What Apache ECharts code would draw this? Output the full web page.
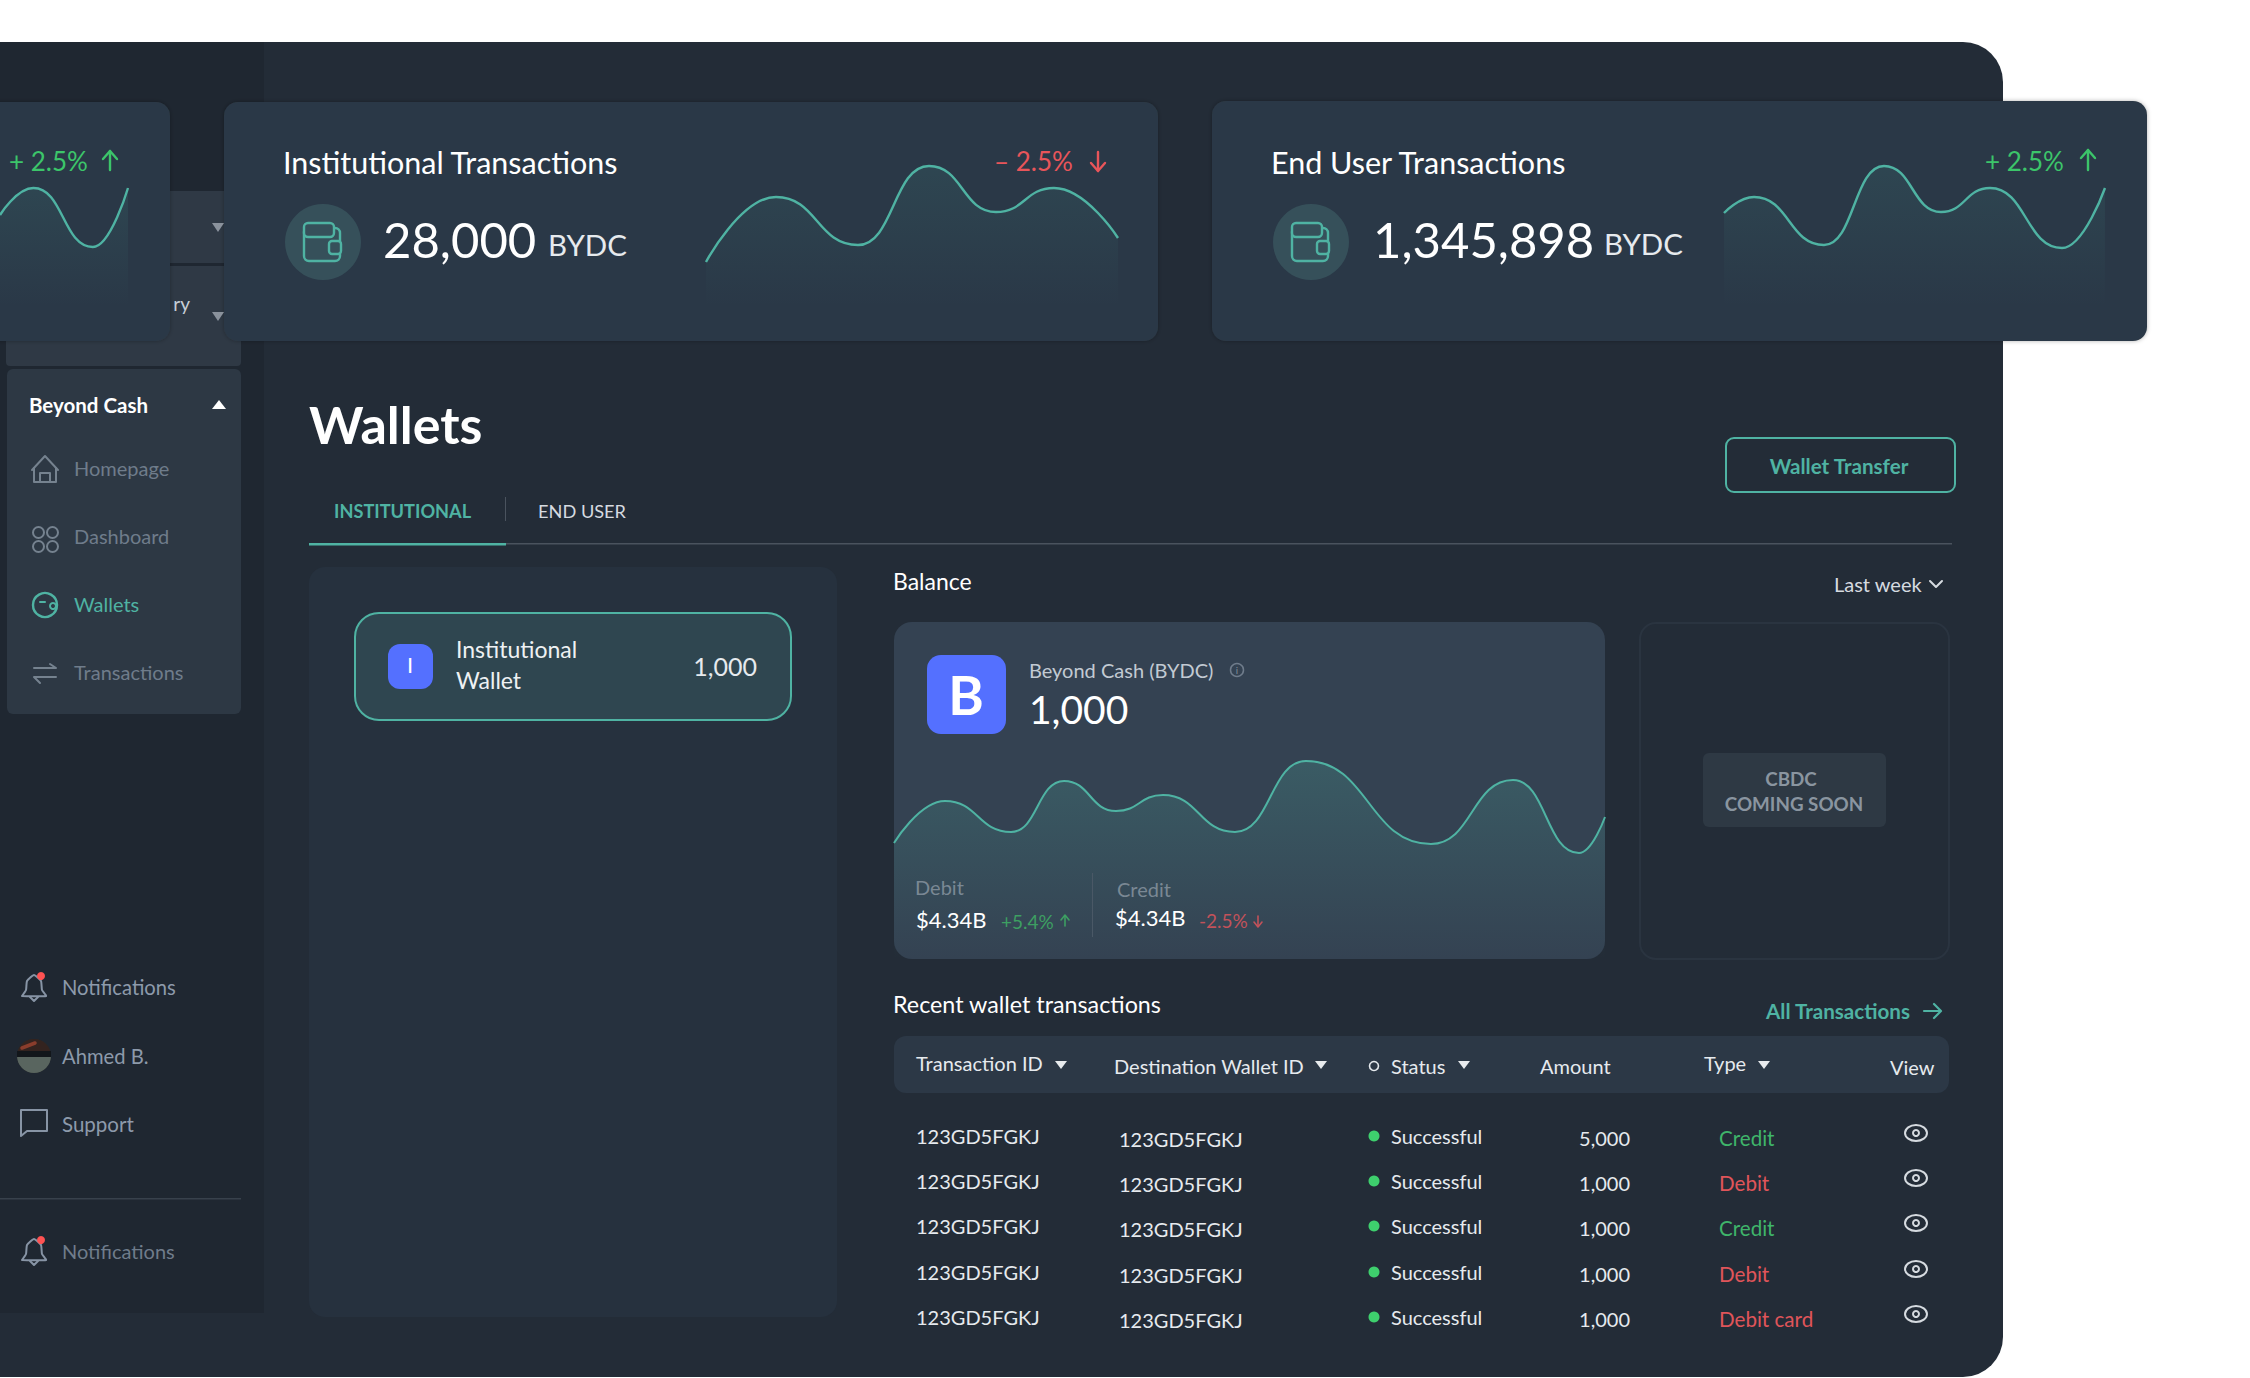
<!DOCTYPE html>
<html><head><meta charset="utf-8">
<style>html,body{margin:0;padding:0;background:#fff}#c{width:2250px;height:1378px}</style>
<script src="https://cdn.jsdelivr.net/npm/echarts@6/dist/echarts.min.js"></script>
</head><body><div id="c"></div>
<script>
// ---- data ----
const miniX=[0,40,111,153];
const miniY=[92,119,60,119];
const instX=[0,70,152,223,290,348,412];
const instY=[45,110,62,141,95,119,69];
const endX=[0,30,100,160,217,266,338,381];
const endY=[94,110,62,141,95,119,59,119];
const balX=[0,51,117,170,222,269,341,412,537,619,685,711];
const balY=[116,158,127,178,148,164,127,198,115,179,106,142];
const tableHeaders=['Transaction ID','Destination Wallet ID','Status','Amount','Type','View'];
const txnIds=['123GD5FGKJ','123GD5FGKJ','123GD5FGKJ','123GD5FGKJ','123GD5FGKJ'];
const destIds=['123GD5FGKJ','123GD5FGKJ','123GD5FGKJ','123GD5FGKJ','123GD5FGKJ'];
const statuses=['Successful','Successful','Successful','Successful','Successful'];
const amounts=['5,000','1,000','1,000','1,000','1,000'];
const types=['Credit','Debit','Credit','Debit','Debit card'];
const navItems=['Homepage','Dashboard','Wallets','Transactions'];

// ---- drawing helpers ----
const FONT='Lato';
const TEAL='#4fb3a3',GREEN='#3cc56a',RED='#e8555a',WHITE='#ffffff';
const els=[];
let zc=1;
function R(x,y,w,h,r,fill,stroke,lw,extra){els.push(Object.assign({type:'rect',silent:true,z:zc++,shape:{x,y,width:w,height:h,r},style:{fill:fill||'transparent',stroke:stroke||null,lineWidth:lw||0}},extra||{}));}
function T(x,y,text,size,fill,o){o=o||{};els.push({type:'text',silent:true,z:o.z||500,style:{x,y:y-1.5,text,fill,fontFamily:FONT,fontSize:size,fontWeight:o.w||400,align:o.a||'left',verticalAlign:'middle'}});}
function P(pts,stroke,lw,o){o=o||{};els.push({type:'polyline',silent:true,z:o.z||400,shape:{points:pts,smooth:o.smooth||0},style:{stroke,lineWidth:lw||2,fill:null,lineCap:'round',lineJoin:'round'}});}
function Tri(pts,fill){els.push({type:'polygon',silent:true,z:400,shape:{points:pts},style:{fill}});}
function C(cx,cy,r,fill,stroke,lw){els.push({type:'circle',silent:true,z:400,shape:{cx,cy,r},style:{fill:fill||'transparent',stroke:stroke||null,lineWidth:lw||0}});}
function down(x,y){Tri([[x-6,y-4],[x+6,y-4],[x,y+4]],'#e8ebee');}
function arrowV(x,y0,y1,c){P([[x,y0],[x,y1]],c,2.4);const d=y1>y0?-1:1;P([[x-7,y1+d*8],[x,y1],[x+7,y1+d*8]],c,2.4);}
function wallet(cx,cy){C(cx,cy,38,'#36505a');
  const x=cx-19,y=cy-19;
  R(x,y+5,36,33,5,'transparent',TEAL,2.4,{z:401});
  R(x,y,30,14,4,'#36505a',TEAL,2.4,{z:402});
  R(x+25,y+18,12,13,3,'#36505a',TEAL,2.4,{z:403});}

// page body
R(-60,42,2063,1335,40,'#232c37');
R(0,42,264,1271,0,'#1f2731');
R(6,191,235,72,4,'#2f3945');
R(6,266,235,100,4,'#2f3945');
T(190,305,'ry',19,'#c7ced6',{z:20,a:'right'});
Tri([[212,223],[224,223],[218,232]],'#8a929c');
Tri([[212,312],[224,312],[218,321]],'#8a929c');
R(7,369,234,345,6,'#2d3844');

// top cards
const shadow={style:{fill:'#2c3946',shadowBlur:4,shadowColor:'rgba(0,0,0,0.3)',stroke:null}};
R(-40,102,210,239,14,'#2c3946',null,0,shadow);
R(224,102,934,239,14,'#2c3946',null,0,shadow);
R(1212,101,935,240,14,'#2c3946',null,0,shadow);

T(9,162,'+ 2.5%',26,GREEN);
arrowV(110,170,151,GREEN);
T(283,163,'Institutional Transactions',30.5,WHITE);
wallet(323,242);
T(383,240,'28,000',49,WHITE);
T(548,246,'BYDC',29.5,'#e6eaee');
T(994,162,'– 2.5%',26,RED);
arrowV(1098,152,171,RED);
T(1271,163,'End User Transactions',30.5,WHITE);
wallet(1311,242);
T(1373,240,'1,345,898',49,WHITE);
T(1604,245,'BYDC',29.5,'#e6eaee');
T(1985,162,'+ 2.5%',26,GREEN);
arrowV(2088,170,150,GREEN);

// sidebar
T(29,406,'Beyond Cash',20.5,WHITE,{w:700});
Tri([[212,409],[226,409],[219,400]],WHITE);
const navY=[469,537,605,673];
navItems.forEach((n,i)=>T(74,navY[i],n,20,i===2?TEAL:'#6f7c8b'));
const NI='#75828f';
P([[32,470],[45,456],[58,470]],NI,2);P([[34,468],[34,482],[56,482],[56,468]],NI,2);P([[40,482],[40,473],[50,473],[50,482]],NI,2);
[[33,527],[47,527],[33,541],[47,541]].forEach(p=>R(p[0],p[1],11,11,5.5,'transparent',NI,2,{z:401}));
C(45,605,12,'transparent',TEAL,2.4);P([[40,602],[45,602]],TEAL,2);C(53,606,3,'#2d3844',TEAL,2);
P([[34,668],[56,668],[50,664]],NI,2);P([[56,677],[34,677],[40,683]],NI,2);

function bell(cx,cy,c){P([[cx-12,cy+10],[cx-8,cy+4],[cx-7,cy-5],[cx,cy-11],[cx+7,cy-5],[cx+8,cy+4],[cx+12,cy+10],[cx-12,cy+10]],c,2,{smooth:0.15});
  P([[cx-4,cy+11],[cx,cy+15],[cx+4,cy+11]],c,2);C(cx+7,cy-10,4,'#ff5252');}
bell(34,986,'#8794a5');
T(62,988,'Notifications',20.2,'#8d9aab');
C(34,1056,17,'#2b2d2a');
els.push({type:'sector',silent:true,z:401,shape:{cx:34,cy:1056,r:17,startAngle:Math.PI,endAngle:Math.PI*2},style:{fill:'#33231f'}});
els.push({type:'sector',silent:true,z:401,shape:{cx:34,cy:1056,r:17,startAngle:0,endAngle:Math.PI},style:{fill:'#59655f'}});
R(17,1051,34,6,0,'#12161a',null,0,{z:402});
P([[22,1048],[35,1043]],'#8a3d2c',3.5,{z:403});
T(62,1057,'Ahmed B.',20.2,'#8d9aab');
P([[21,1136],[21,1110],[47,1110],[47,1131],[27,1131],[21,1136]],'#8794a5',2);
T(62,1125,'Support',20.5,'#8d9aab');
R(0,1198,241,1.5,0,'#38414c');
bell(34,1250,'#8794a5');
T(62,1252,'Notifications',20,'#6f7c8b');

// heading + tabs
T(309,425,'Wallets',52,WHITE,{w:700});
T(334,512,'INSTITUTIONAL',18.2,TEAL,{w:700});
R(505,497,1,24,0,'#4a535e');
T(538,512,'END USER',18.2,'#d6dbe0');
R(309,543,1643,1.5,0,'#4a535e');
R(309,543,197,2.5,0,TEAL);
R(1726,438,229,54,8,'transparent',TEAL,2);
T(1839,467,'Wallet Transfer',20.6,TEAL,{a:'center',w:700});

// wallet list
R(309,567,528,750,16,'#26313e');
R(355,613,436,107,24,'#2f4650',TEAL,2);
R(388,644,45,45,12,'#5470ff');
T(410,666,'I',22,WHITE,{a:'center'});
T(456,650,'Institutional',23,'#eef1f3');
T(456,681,'Wallet',23,'#eef1f3');
T(757,667,'1,000',25,'#e6eaee',{a:'right'});

// balance
T(893,582,'Balance',23,WHITE);
T(1834,585,'Last week',20,'#d6dbe0');
P([[1930,581],[1936,587],[1942,581]],'#d6dbe0',2);
R(894,622,711,337,18,'#344252');
R(927,655,79,79,14,'#5470ff');
T(966,696,'B',54,WHITE,{a:'center',w:700});
T(1029,671,'Beyond Cash (BYDC)',20,'#c2cad3');
C(1237,670,6.5,'transparent','#6f7c8b',1.5);
T(1237,671,'i',10,'#7f8b98',{a:'center'});
T(1029,710,'1,000',39,WHITE);
T(915,888,'Debit',20,'#7a8894');
T(1117,890,'Credit',20,'#7a8894');
R(1092,873,1,64,0,'#4a5866',null,0,{z:450});
T(916,921,'$4.34B',22,WHITE);
T(1001,923,'+5.4%',19,'#3d9f62');
P([[1065,926],[1065,916]],'#3d9f62',1.6);P([[1061,920],[1065,915],[1069,920]],'#3d9f62',1.6);
T(1115,919,'$4.34B',22,WHITE);
T(1199,922,'-2.5%',19,'#c2525a');
P([[1258,916],[1258,926]],'#c2525a',1.6);P([[1254,922],[1258,927],[1262,922]],'#c2525a',1.6);
R(1640,623,309,336,16,'#232c37','#2a3440',2);
R(1703,753,183,74,6,'#2e3944');
T(1791,780,'CBDC',18.8,'#8a95a0',{a:'center',w:700});
T(1794,805,'COMING SOON',18.8,'#8a95a0',{a:'center',w:700});

// table
T(893,1005,'Recent wallet transactions',23.3,WHITE);
T(1766,1012,'All Transactions',20.6,TEAL,{w:700});
P([[1924,1011],[1940,1011]],TEAL,2.2);P([[1934,1004],[1941,1011],[1934,1018]],TEAL,2.2);
R(894,1036,1055,57,12,'#2c3846');
const headX=[916,1114,1391,1540,1704,1890],headY=[1064,1067,1067,1067,1064,1068];
tableHeaders.forEach((h,i)=>T(headX[i],headY[i],h,20,'#e6eaee'));
down(1061,1065);down(1321,1065);down(1464,1065);down(1764,1065);
C(1374,1066,4.5,'transparent','#e6eaee',1.6);
const rowY=[1137,1182,1227,1273,1318];
rowY.forEach((y,i)=>{
  T(916,y,txnIds[i],20,'#e6eaee');
  T(1119,y+3,destIds[i],20,'#e6eaee');
  C(1374,y-1,5.5,'#3ecf6d');
  T(1391,y,statuses[i],20,'#e6eaee');
  T(1630,y+2,amounts[i],20,'#e6eaee',{a:'right'});
  T(1719,y+2,types[i],20.6,types[i]==='Credit'?'#3fb56a':'#e0555a');
  els.push({type:'ellipse',silent:true,z:400,shape:{cx:1916,cy:y-4,rx:11,ry:8},style:{fill:'transparent',stroke:'#d6dbe0',lineWidth:2}});
  C(1916,y-4,3,'transparent','#d6dbe0',2);
});

// ---- sparklines ----
const sparks=[
  {xs:miniX,ys:miniY,left:-25,width:153,top:150,height:157,strength:0.16},
  {xs:instX,ys:instY,left:706,width:412,top:150,height:157,strength:0.16},
  {xs:endX,ys:endY,left:1724,width:381,top:150,height:157,strength:0.16},
  {xs:balX,ys:balY,left:894,width:711,top:740,height:219,strength:0.32}
];
const option={
  backgroundColor:'#ffffff',animation:false,
  graphic:{elements:els},
  tooltip:{show:false},legend:{show:false},
  grid:sparks.map(s=>({left:s.left,width:s.width,top:s.top,height:s.height,containLabel:false})),
  xAxis:sparks.map((s,i)=>({type:'value',gridIndex:i,min:0,max:s.width,show:false})),
  yAxis:sparks.map((s,i)=>({type:'value',gridIndex:i,min:0,max:s.height,show:false})),
  series:sparks.map((s,i)=>({
    type:'line',xAxisIndex:i,yAxisIndex:i,z:100,silent:true,
    data:s.xs.map((x,j)=>[x,s.ys[j]]),
    smooth:0.5,smoothMonotone:'x',showSymbol:false,symbol:'none',
    lineStyle:{color:TEAL,width:i===3?2:2.4},
    areaStyle:{color:{type:'linear',x:0,y:0,x2:0,y2:1,colorStops:[{offset:0,color:'rgba(79,179,163,'+s.strength+')'},{offset:1,color:'rgba(79,179,163,0)'}]}}
  }))
};
const chart=echarts.init(document.getElementById('c'),null,{renderer:'svg',width:2250,height:1378});
chart.setOption(option);
</script></body></html>
